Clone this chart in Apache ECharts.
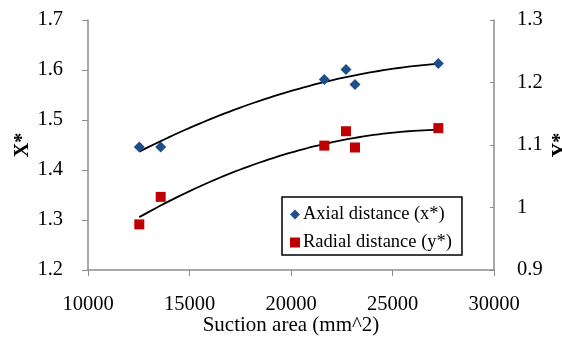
<!DOCTYPE html>
<html>
<head>
<meta charset="utf-8">
<script src="https://cdn.jsdelivr.net/npm/echarts@6/dist/echarts.min.js"></script>
<style>
  html, body { margin: 0; padding: 0; background: #fff; }
  #chart { width: 562px; height: 337px; }
</style>
</head>
<body>
<div id="chart"></div>
<script>
// Suction area (mm^2) for each test
const suctionArea = [12527, 13581, 21641, 22709, 23152, 27257];
// Dimensionless axial distance x* (left axis)
const axialDistance = [1.446, 1.446, 1.581, 1.601, 1.571, 1.613];
// Dimensionless radial distance y* (right axis)
const radialDistance = [0.973, 1.017, 1.099, 1.122, 1.096, 1.127];

const xTicks = [10000, 15000, 20000, 25000, 30000];
const leftTicks = [1.2, 1.3, 1.4, 1.5, 1.6, 1.7];
const rightTicks = [0.9, 1, 1.1, 1.2, 1.3];

// Second-order least-squares trendline through a series
function quadFit(xs, ys) {
  const s = xs.map(x => x / 10000);
  let S = [0, 0, 0, 0, 0], T = [0, 0, 0];
  s.forEach((x, i) => {
    for (let k = 0; k < 5; k++) S[k] += Math.pow(x, k);
    for (let k = 0; k < 3; k++) T[k] += ys[i] * Math.pow(x, k);
  });
  const A = [[S[0], S[1], S[2], T[0]], [S[1], S[2], S[3], T[1]], [S[2], S[3], S[4], T[2]]];
  for (let c = 0; c < 3; c++) {
    for (let r = c + 1; r < 3; r++) {
      const f = A[r][c] / A[c][c];
      for (let k = c; k < 4; k++) A[r][k] -= f * A[c][k];
    }
  }
  const b = [0, 0, 0];
  for (let r = 2; r >= 0; r--) {
    let v = A[r][3];
    for (let k = r + 1; k < 3; k++) v -= A[r][k] * b[k];
    b[r] = v / A[r][r];
  }
  const lo = Math.min(...xs), hi = Math.max(...xs);
  const pts = [];
  for (let i = 0; i <= 60; i++) {
    const x = lo + (hi - lo) * i / 60;
    const t = x / 10000;
    pts.push([x, b[0] + b[1] * t + b[2] * t * t]);
  }
  return pts;
}

const serif = '"Liberation Serif", "Times New Roman", serif';
const axisGrey = '#8c8c8c';

const chart = echarts.init(document.getElementById('chart'));
chart.setOption({
  animation: false,
  grid: { left: 88, right: 68, top: 20, bottom: 67, containLabel: false, outerBoundsMode: 'none' },
  legend: {
    left: 282, top: 197, width: 182,
    orient: 'vertical',
    itemGap: 9,
    itemWidth: 10, itemHeight: 10,
    padding: [8, 10, 3, 8],
    borderColor: '#000', borderWidth: 1.5,
    backgroundColor: '#fff',
    data: ['Axial distance (x*)', 'Radial distance (y*)'],
    textStyle: { fontFamily: serif, fontSize: 18.5, color: '#000', padding: [0, 0, 0, -2] }
  },
  xAxis: {
    type: 'value', min: 10000, max: 30000, interval: 5000,
    name: 'Suction area (mm^2)', nameLocation: 'middle', nameGap: 45, nameMoveOverlap: false,
    nameTextStyle: { fontFamily: serif, fontSize: 21, color: '#000' },
    axisLine: { lineStyle: { color: axisGrey, width: 1.5 } },
    axisTick: { show: true, length: 6, lineStyle: { color: axisGrey } },
    axisLabel: { fontFamily: serif, fontSize: 20.5, color: '#000', margin: 24,
      formatter: v => xTicks.includes(v) ? String(v) : '' },
    splitLine: { show: false }
  },
  yAxis: [
    {
      type: 'value', min: 1.2, max: 1.7, interval: 0.1, position: 'left',
      name: 'X*', nameLocation: 'middle', nameGap: 55, nameRotate: 90, nameMoveOverlap: false,
      nameTextStyle: { fontFamily: serif, fontSize: 20, fontWeight: 'bold', color: '#000' },
      axisLine: { show: true, lineStyle: { color: axisGrey, width: 1.5 } },
      axisTick: { show: true, length: 6, lineStyle: { color: axisGrey } },
      axisLabel: { fontFamily: serif, fontSize: 20.5, color: '#000', margin: 25,
        formatter: v => leftTicks.find(t => Math.abs(t - v) < 1e-9).toFixed(1) },
      splitLine: { show: false }
    },
    {
      type: 'value', min: 0.9, max: 1.3, interval: 0.1, position: 'right',
      name: 'Y*', nameLocation: 'middle', nameGap: 57, nameRotate: 90, nameMoveOverlap: false,
      nameTextStyle: { fontFamily: serif, fontSize: 20, fontWeight: 'bold', color: '#000' },
      axisLine: { show: true, lineStyle: { color: axisGrey, width: 1.5 } },
      axisTick: { show: true, inside: true, length: 4, lineStyle: { color: axisGrey } },
      axisLabel: { fontFamily: serif, fontSize: 20.5, color: '#000', margin: 23,
        formatter: v => { const t = rightTicks.find(r => Math.abs(r - v) < 1e-9); return t === 1 ? '1' : t.toFixed(1); } },
      splitLine: { show: false }
    }
  ],
  series: [
    {
      name: 'Axial distance (x*)', type: 'scatter', yAxisIndex: 0,
      symbol: 'diamond', symbolSize: 11,
      itemStyle: { color: '#1f4e8c', opacity: 1 },
      data: suctionArea.map((x, i) => [x, axialDistance[i]]), z: 3
    },
    {
      name: 'Radial distance (y*)', type: 'scatter', yAxisIndex: 1,
      symbol: 'rect', symbolSize: 10,
      itemStyle: { color: '#c00000', opacity: 1 },
      data: suctionArea.map((x, i) => [x, radialDistance[i]]), z: 3
    },
    {
      type: 'line', yAxisIndex: 0, showSymbol: false, silent: true,
      lineStyle: { color: '#000', width: 1.8 },
      data: quadFit(suctionArea, axialDistance), z: 2
    },
    {
      type: 'line', yAxisIndex: 1, showSymbol: false, silent: true,
      lineStyle: { color: '#000', width: 1.8 },
      data: quadFit(suctionArea, radialDistance), z: 2
    }
  ]
});
</script>
</body>
</html>
